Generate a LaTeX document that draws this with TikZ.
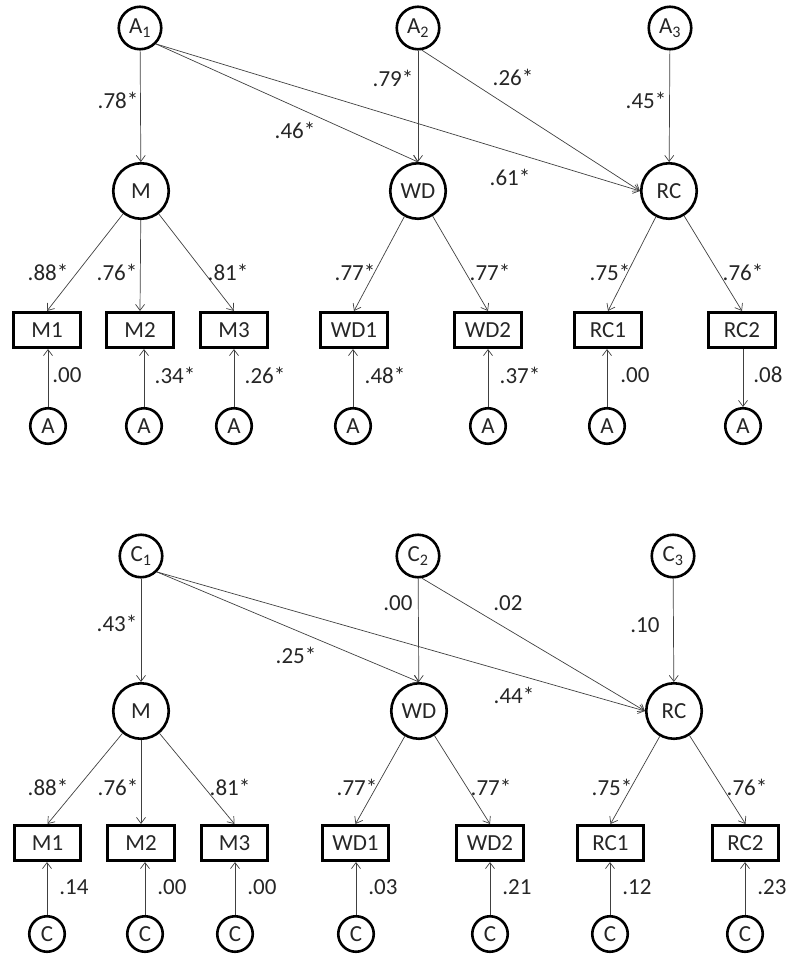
\documentclass[tikz,border=0pt]{standalone}
\usepackage{fontspec}
\setmainfont{Carlito}
\usetikzlibrary{arrows.meta}
\begin{document}
\begin{tikzpicture}[x=1pt,y=-1pt,
  every node/.style={font=\fontsize{23}{25}\selectfont,text=black!85},
  lat/.style={circle,draw,line width=2.6pt,minimum size=55.5pt,inner sep=0pt},
  exo/.style={circle,draw,line width=2.6pt,minimum size=42.5pt,inner sep=0pt},
  err/.style={circle,draw,line width=2.6pt,minimum size=35.5pt,inner sep=0pt},
  obs/.style={rectangle,draw,line width=2.6pt,minimum width=66.5pt,minimum height=35.5pt,inner sep=0pt},
  arr/.style={-{Straight Barb[length=6pt,width=9pt]},line width=0.7pt,draw=black!75},
  lab/.style={inner sep=0pt}
]
\useasboundingbox (0,0) rectangle (800,971);

% ---------------- top panel ----------------
\node[exo] (A1) at (140,28) {A\textsubscript{1}};
\node[exo] (A2) at (418,28) {A\textsubscript{2}};
\node[exo] (A3) at (670,28) {A\textsubscript{3}};
\node[lat] (tM) at (141,191) {M};
\node[lat] (tWD) at (418,191) {WD};
\node[lat] (tRC) at (669,191) {RC};
\node[obs] (tM1) at (47,330) {M1};
\node[obs] (tM2) at (140,330) {M2};
\node[obs] (tM3) at (234,330) {M3};
\node[obs] (tWD1) at (354,330) {WD1};
\node[obs] (tWD2) at (488,330) {WD2};
\node[obs] (tRC1) at (608,330) {RC1};
\node[obs] (tRC2) at (742,330) {RC2};
\node[err] (te1) at (48,426) {A};
\node[err] (te2) at (144,426) {A};
\node[err] (te3) at (234,426) {A};
\node[err] (te4) at (353,426) {A};
\node[err] (te5) at (488,426) {A};
\node[err] (te6) at (607,426) {A};
\node[err] (te7) at (743,426) {A};

\draw[arr] (A1) -- (tM);
\draw[arr] (A1.-45) -- (tWD.north);
\draw[arr] (A1.-45) -- (tRC.west);
\draw[arr] (A2) -- (tWD);
\draw[arr] (A2.-80) -- (tRC.west);
\draw[arr] (A3) -- (tRC);
\draw[arr] (tM) -- (tM1.north);
\draw[arr] (tM) -- (tM2.north);
\draw[arr] (tM) -- (tM3.north);
\draw[arr] (tWD) -- (tWD1.north);
\draw[arr] (tWD) -- (tWD2.north);
\draw[arr] (tRC) -- (tRC1.north);
\draw[arr] (tRC) -- (tRC2.north);
\draw[arr] (te1) -- (te1 |- tM1.south);
\draw[arr] (te2) -- (te2 |- tM2.south);
\draw[arr] (te3) -- (te3 |- tM3.south);
\draw[arr] (te4) -- (te4 |- tWD1.south);
\draw[arr] (te5) -- (te5 |- tWD2.south);
\draw[arr] (te6) -- (te6 |- tRC1.south);
\draw[arr] (te7 |- tRC2.south) -- (te7);

\node[lab] (l1) at (118,100) {.78*};
\node[lab] (l2) at (295,130) {.46*};
\node[lab] (l3) at (393,78) {.79*};
\node[lab] (l4) at (513,77) {.26*};
\node[lab] (l5) at (646,100) {.45*};
\node[lab] (l6) at (510,177) {.61*};
\node[lab] (l7) at (48,272) {.88*};
\node[lab] (l8) at (117,272) {.76*};
\node[lab] (l9) at (228,272) {.81*};
\node[lab] (l10) at (355,272) {.77*};
\node[lab] (l11) at (490,272) {.77*};
\node[lab] (l12) at (610,272) {.75*};
\node[lab] (l13) at (743,272) {.76*};
\node[lab] (l14) at (67,375) {.00};
\node[lab] (l15) at (175,375) {.34*};
\node[lab] (l16) at (265,375) {.26*};
\node[lab] (l17) at (385,375) {.48*};
\node[lab] (l18) at (520,375) {.37*};
\node[lab] (l19) at (635,375) {.00};
\node[lab] (l20) at (768,375) {.08};

% ---------------- bottom panel ----------------
\node[exo] (C1) at (141,556) {C\textsubscript{1}};
\node[exo] (C2) at (418,556) {C\textsubscript{2}};
\node[exo] (C3) at (673,556) {C\textsubscript{3}};
\node[lat] (bM) at (141,711) {M};
\node[lat] (bWD) at (419,711) {WD};
\node[lat] (bRC) at (674,711) {RC};
\node[obs] (bM1) at (47.5,843) {M1};
\node[obs] (bM2) at (141,843) {M2};
\node[obs] (bM3) at (234.5,843) {M3};
\node[obs] (bWD1) at (355.5,843) {WD1};
\node[obs] (bWD2) at (490,843) {WD2};
\node[obs] (bRC1) at (610.5,843) {RC1};
\node[obs] (bRC2) at (745.5,843) {RC2};
\node[err] (be1) at (47,934) {C};
\node[err] (be2) at (145,934) {C};
\node[err] (be3) at (235,934) {C};
\node[err] (be4) at (356,934) {C};
\node[err] (be5) at (490,934) {C};
\node[err] (be6) at (610,934) {C};
\node[err] (be7) at (745,934) {C};

\draw[arr] (C1) -- (bM);
\draw[arr] (C1.-45) -- (bWD.north);
\draw[arr] (C1.-45) -- (bRC.west);
\draw[arr] (C2) -- (bWD);
\draw[arr] (C2.-80) -- (bRC.west);
\draw[arr] (C3) -- (bRC);
\draw[arr] (bM) -- (bM1.north);
\draw[arr] (bM) -- (bM2.north);
\draw[arr] (bM) -- (bM3.north);
\draw[arr] (bWD) -- (bWD1.north);
\draw[arr] (bWD) -- (bWD2.north);
\draw[arr] (bRC) -- (bRC1.north);
\draw[arr] (bRC) -- (bRC2.north);
\draw[arr] (be1) -- (be1 |- bM1.south);
\draw[arr] (be2) -- (be2 |- bM2.south);
\draw[arr] (be3) -- (be3 |- bM3.south);
\draw[arr] (be4) -- (be4 |- bWD1.south);
\draw[arr] (be5) -- (be5 |- bWD2.south);
\draw[arr] (be6) -- (be6 |- bRC1.south);
\draw[arr] (be7) -- (be7 |- bRC2.south);

\node[lab] (m1) at (117,623) {.43*};
\node[lab] (m2) at (296,655) {.25*};
\node[lab] (m3) at (398,603) {.00};
\node[lab] (m4) at (508,603) {.02};
\node[lab] (m5) at (645,625) {.10};
\node[lab] (m6) at (514,695) {.44*};
\node[lab] (m7) at (48,787) {.88*};
\node[lab] (m8) at (118,787) {.76*};
\node[lab] (m9) at (230,787) {.81*};
\node[lab] (m10) at (357,787) {.77*};
\node[lab] (m11) at (491,787) {.77*};
\node[lab] (m12) at (612,787) {.75*};
\node[lab] (m13) at (747,787) {.76*};
\node[lab] (m14) at (74,887) {.14};
\node[lab] (m15) at (172,887) {.00};
\node[lab] (m16) at (262,887) {.00};
\node[lab] (m17) at (383,887) {.03};
\node[lab] (m18) at (517,887) {.21};
\node[lab] (m19) at (637,887) {.12};
\node[lab] (m20) at (772,887) {.23};
\end{tikzpicture}
\end{document}
